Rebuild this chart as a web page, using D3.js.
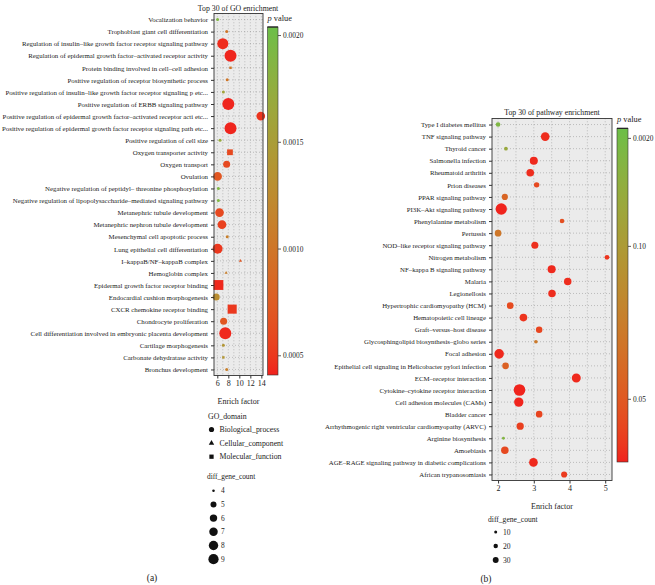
<!DOCTYPE html>
<html><head><meta charset="utf-8">
<script src="https://cdn.jsdelivr.net/npm/d3@7"></script>
<style>body{margin:0;background:#fff} text{font-family:"Liberation Serif","DejaVu Serif",serif;fill:#222}</style>
</head><body><svg id="c" width="655" height="585"></svg>
<script>
// ---------- GO enrichment (a) ----------
const goTerms=["Vocalization behavior","Trophoblast giant cell differentiation","Regulation of insulin–like growth factor receptor signaling pathway","Regulation of epidermal growth factor–activated receptor activity","Protein binding involved in cell–cell adhesion","Positive regulation of receptor biosynthetic process","Positive regulation of insulin–like growth factor receptor signaling p etc...","Positive regulation of ERBB signaling pathway","Positive regulation of epidermal growth factor–activated receptor acti etc...","Positive regulation of epidermal growth factor receptor signaling path etc...","Positive regulation of cell size","Oxygen transporter activity","Oxygen transport","Ovulation","Negative regulation of peptidyl– threonine phosphorylation","Negative regulation of lipopolysaccharide–mediated signaling pathway","Metanephric tubule development","Metanephric nephron tubule development","Mesenchymal cell apoptotic process","Lung epithelial cell differentiation","I–kappaB/NF–kappaB complex","Hemoglobin complex","Epidermal growth factor receptor binding","Endocardial cushion morphogenesis","CXCR chemokine receptor binding","Chondrocyte proliferation","Cell differentiation involved in embryonic placenta development","Cartilage morphogenesis","Carbonate dehydratase activity","Bronchus development"];
const goEnrich=[6.05,7.7,7.0,8.4,8.4,7.8,7.1,8.0,13.9,8.4,6.5,8.3,7.7,6.05,6.2,6.2,6.4,6.85,7.8,6.05,10.2,7.6,6.2,5.8,8.7,7.15,7.45,7.1,7.1,7.7];
const goCount=[4,4,8,9,4,4,4,9,6,9,4,5,5,6,4,4,6,6,4,7,4,4,9,5,8,5,9,4,4,4];
const goP=[0.0019,0.0010,0.00045,0.00042,0.0010,0.0010,0.0016,0.00042,0.00048,0.00042,0.0017,0.0006,0.0006,0.0007,0.0019,0.0019,0.0006,0.00055,0.0011,0.0005,0.0007,0.0011,0.00043,0.0013,0.0005,0.0007,0.00043,0.0014,0.0014,0.0011];
const goDomain=["BP","BP","BP","BP","MF","BP","BP","BP","BP","BP","BP","MF","BP","BP","BP","BP","BP","BP","BP","BP","CC","CC","MF","BP","MF","BP","BP","BP","MF","BP"];
const goXTicks=[6,8,10,12,14];
const goPTicks=[0.0020,0.0015,0.0010,0.0005];
const goPTickLabels=["0.0020","0.0015","0.0010","0.0005"];
const goDomainNames=["Biological_process","Cellular_component","Molecular_function"];
const goSizeKeys=[4,5,6,7,8,9];

// ---------- Pathway enrichment (b) ----------
const pathTerms=["Type I diabetes mellitus","TNF signaling pathway","Thyroid cancer","Salmonella infection","Rheumatoid arthritis","Prion diseases","PPAR signaling pathway","PI3K–Akt signaling pathway","Phenylalanine metabolism","Pertussis","NOD–like receptor signaling pathway","Nitrogen metabolism","NF–kappa B signaling pathway","Malaria","Legionellosis","Hypertrophic cardiomyopathy (HCM)","Hematopoietic cell lineage","Graft–versus–host disease","Glycosphingolipid biosynthesis–globo series","Focal adhesion","Epithelial cell signaling in Helicobacter pylori infection","ECM–receptor interaction","Cytokine–cytokine receptor interaction","Cell adhesion molecules (CAMs)","Bladder cancer","Arrhythmogenic right ventricular cardiomyopathy (ARVC)","Arginine biosynthesis","Amoebiasis","AGE–RAGE signaling pathway in diabetic complications","African trypanosomiasis"];
const pathEnrich=[2.0,3.32,2.22,3.0,2.9,3.08,2.19,2.09,3.79,2.0,3.03,5.05,3.5,3.95,3.51,2.34,2.71,3.15,3.06,2.03,2.21,4.19,2.6,2.58,3.15,2.62,2.15,2.19,2.99,3.85];
const pathCount=[21,49,15,45,42,27,31,67,21,35,38,22,45,41,41,35,42,34,14,55,35,51,69,54,35,39,9,41,49,31];
const pathP=[0.13,0.032,0.115,0.031,0.032,0.042,0.058,0.030,0.045,0.07,0.033,0.034,0.031,0.032,0.032,0.043,0.034,0.040,0.072,0.031,0.055,0.031,0.030,0.030,0.040,0.038,0.128,0.042,0.031,0.036];
const pathXTicks=[2,3,4,5];
const pathPTicks=[0.1353,0.10,0.05];
const pathPTickLabels=["0.0020","0.10","0.05"];
const pathSizeKeys=[10,20,30];

const svg=d3.select("#c");
const LOW="#f0221d", HIGH="#6cbf48";
const defs=svg.append("defs");

function shapeOf(d){return d==="CC"?d3.symbolTriangle:(d==="MF"?d3.symbolSquare:d3.symbolCircle);}
function areaOf(d,r){return d==="CC"?1.9*r*r:(d==="MF"?2.7*r*r:Math.PI*r*r);}

function panel(o){
  const g=svg.append("g");
  const x=d3.scaleLinear().domain(o.xDomain).range([o.l,o.r]);
  const y=d3.scalePoint().domain(o.terms).range([o.t,o.b]).padding(0.5);
  const col=d3.scaleLinear().domain(o.pDomain).range([LOW,HIGH]).interpolate(d3.interpolateLab);
  g.append("rect").attr("x",o.l).attr("y",o.t).attr("width",o.r-o.l).attr("height",o.b-o.t).attr("fill","#ebebeb");
  // grid
  const gx=d3.range(o.gridStart,o.xDomain[1],o.gridStep);
  g.selectAll(".vg").data(gx).join("line").attr("x1",d=>x(d)).attr("x2",d=>x(d)).attr("y1",o.t).attr("y2",o.b)
   .attr("stroke","#777").attr("stroke-width",0.6).attr("stroke-dasharray","0.7,2.3");
  g.selectAll(".hg").data(o.terms).join("line").attr("x1",o.l).attr("x2",o.r).attr("y1",d=>y(d)).attr("y2",d=>y(d))
   .attr("stroke","#777").attr("stroke-width",0.6).attr("stroke-dasharray","0.7,2.3");
  // points
  o.terms.forEach((t,i)=>{
    const dom=o.domain?o.domain[i]:"BP";
    const r=o.size(o.count[i]);
    g.append("path").attr("transform",`translate(${x(o.enrich[i])},${y(t)})`)
     .attr("d",d3.symbol().type(shapeOf(dom)).size(areaOf(dom,r))())
     .attr("fill",col(o.p[i]));
  });
  g.append("rect").attr("x",o.l).attr("y",o.t).attr("width",o.r-o.l).attr("height",o.b-o.t).attr("fill","none").attr("stroke","#333").attr("stroke-width",0.9);
  // y axis
  const ya=g.append("g").attr("transform",`translate(${o.l},0)`).call(d3.axisLeft(y).tickSize(3).tickPadding(3));
  ya.select(".domain").remove();
  ya.selectAll("line").attr("stroke","#333");
  ya.selectAll("text").attr("font-size",o.fs).attr("fill","#222").style("font-family",'"Liberation Serif",serif');
  // x axis
  const xa=g.append("g").attr("transform",`translate(0,${o.b})`).call(d3.axisBottom(x).tickValues(o.xTicks).tickSize(3).tickPadding(2).tickFormat(d3.format("d")));
  xa.select(".domain").remove();
  xa.selectAll("line").attr("stroke","#333");
  xa.selectAll("text").attr("font-size",8).attr("fill","#222").style("font-family",'"Liberation Serif",serif');
  g.append("text").attr("x",(o.l+o.r)/2).attr("y",o.b+28).attr("text-anchor","middle").attr("font-size",8).text("Enrich factor");
  g.append("text").attr("x",o.titleX).attr("y",o.titleY).attr("text-anchor","middle").attr("font-size",7.8).text(o.title);
  // colorbar
  const cb=o.cb;
  const gid="grad"+o.id;
  const grad=defs.append("linearGradient").attr("id",gid).attr("x1",0).attr("x2",0).attr("y1",1).attr("y2",0);
  const cy=d3.scaleLinear().domain(o.pDomain).range([cb.b,cb.t]);
  d3.range(0,1.0001,0.05).forEach(s=>grad.append("stop").attr("offset",s).attr("stop-color",col(o.pDomain[0]+s*(o.pDomain[1]-o.pDomain[0]))));
  g.append("rect").attr("x",cb.x).attr("y",cb.t).attr("width",cb.w).attr("height",cb.b-cb.t).attr("fill",`url(#${gid})`).attr("stroke","#333").attr("stroke-width",0.6);
  g.append("line").attr("x1",cb.x).attr("x2",cb.x+cb.w).attr("y1",cb.t).attr("y2",cb.t).attr("stroke","#222").attr("stroke-width",1.2);
  o.pTicks.forEach((v,i)=>{
    g.append("line").attr("x1",cb.x+cb.w).attr("x2",cb.x+cb.w+3).attr("y1",cy(v)).attr("y2",cy(v)).attr("stroke","#333").attr("stroke-width",0.8);
    g.append("text").attr("x",cb.x+cb.w+5).attr("y",cy(v)+2.5).attr("font-size",7.4).text(o.pTickLabels[i]);
  });
  const pt=g.append("text").attr("x",cb.x).attr("y",cb.t-6).attr("font-size",8.4);
  pt.append("tspan").attr("font-style","italic").text("p");
  pt.append("tspan").text(" value");
}

const goSize=d3.scaleSqrt().domain([0,5]).range([1.5,6]);
panel({id:"a",terms:goTerms,enrich:goEnrich,count:goCount,p:goP,domain:goDomain,
  l:214,r:263,t:13.5,b:375.5,xDomain:[5.4,14.3],xTicks:goXTicks,gridStart:6,gridStep:1,
  pDomain:[0.00041,0.00204],pTicks:goPTicks,pTickLabels:goPTickLabels,
  size:c=>goSize(c-4),fs:6.85,title:"Top 30 of GO enrichment",titleX:238,titleY:10.5,
  cb:{x:267.5,w:10.5,t:27,b:375}});

const pathSize=d3.scaleLinear().domain([10,30]).range([1.5,2.95]);
panel({id:"b",terms:pathTerms,enrich:pathEnrich,count:pathCount,p:pathP,
  l:492,r:612,t:118.5,b:480.5,xDomain:[1.83,5.19],xTicks:pathXTicks,gridStart:2,gridStep:0.5,
  pDomain:[0.0295,0.1386],pTicks:pathPTicks,pTickLabels:pathPTickLabels,
  size:c=>pathSize(c),fs:6.8,title:"Top 30 of pathway enrichment",titleX:552,titleY:114.5,
  cb:{x:617,w:11,t:128.3,b:462}});

// legends (a)
const L=svg.append("g");
L.append("text").attr("x",208).attr("y",419).attr("font-size",7.8).text("GO_domain");
["BP","CC","MF"].forEach((d,i)=>{
  const yy=429.5+i*13.6;
  L.append("path").attr("transform",`translate(211.5,${yy})`).attr("d",d3.symbol().type(shapeOf(d)).size(areaOf(d,2.6))()).attr("fill","#111");
  L.append("text").attr("x",219.5).attr("y",yy+2.6).attr("font-size",7.8).text(goDomainNames[i]);
});
L.append("text").attr("x",207).attr("y",479).attr("font-size",7.4).text("diff_gene_count");
goSizeKeys.forEach((k,i)=>{
  const yy=490.7+i*13.7;
  L.append("circle").attr("cx",213.5).attr("cy",yy).attr("r",goSize(k-4)*0.85).attr("fill","#111");
  L.append("text").attr("x",221).attr("y",yy+2.5).attr("font-size",7.4).text(k);
});
// legends (b)
L.append("text").attr("x",488).attr("y",521.5).attr("font-size",7.6).text("diff_gene_count");
pathSizeKeys.forEach((k,i)=>{
  const yy=532+i*14;
  L.append("circle").attr("cx",495.7).attr("cy",yy).attr("r",pathSize(k)).attr("fill","#111");
  L.append("text").attr("x",503).attr("y",yy+2.5).attr("font-size",7.6).text(k);
});
svg.append("text").attr("x",152).attr("y",581).attr("text-anchor","middle").attr("font-size",9.5).text("(a)");
svg.append("text").attr("x",486).attr("y",582).attr("text-anchor","middle").attr("font-size",9.5).text("(b)");
</script></body></html>
